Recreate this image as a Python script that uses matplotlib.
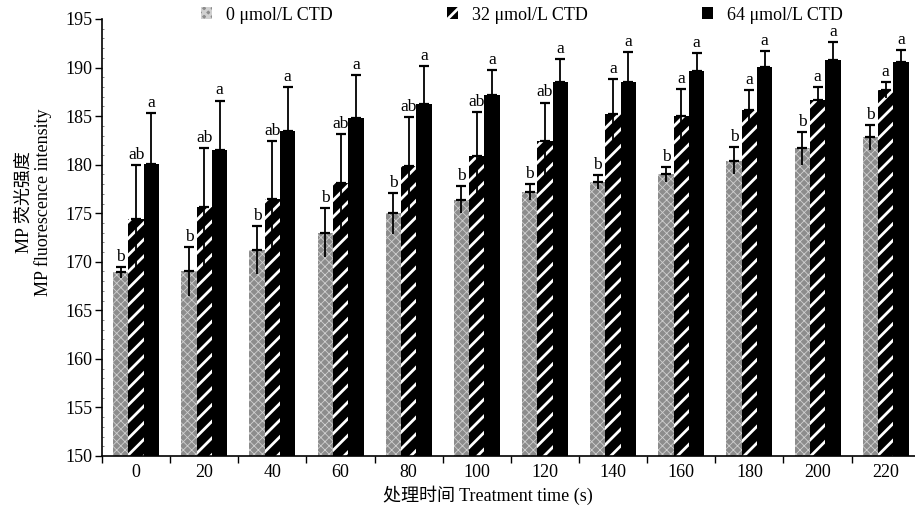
import matplotlib
matplotlib.use('Agg')
import matplotlib.pyplot as plt
import numpy as np
from matplotlib.patches import Patch

plt.rcParams['font.family'] = ['Liberation Serif', 'Noto Sans CJK SC', 'DejaVu Sans']
plt.rcParams['hatch.linewidth'] = 2.0

times = ['0', '20', '40', '60', '80', '100', '120', '140', '160', '180', '200', '220']
ctd0 = [168.9, 169.0, 171.2, 173.0, 175.0, 176.4, 177.2, 178.2, 179.0, 180.4, 181.7, 182.8]
ctd0_err = [0.6, 2.5, 2.5, 2.5, 2.1, 1.4, 0.8, 0.7, 0.8, 1.4, 1.7, 1.3]
ctd32 = [174.4, 175.6, 176.5, 178.1, 179.9, 180.9, 182.4, 185.2, 185.0, 185.6, 186.7, 187.7]
ctd32_err = [5.6, 6.1, 5.9, 5.1, 5.0, 4.5, 4.0, 3.6, 2.8, 2.1, 1.3, 0.8]
ctd64 = [180.1, 181.5, 183.5, 184.8, 186.2, 187.2, 188.5, 188.5, 189.6, 190.1, 190.8, 190.6]
ctd64_err = [5.2, 5.1, 4.5, 4.4, 4.0, 2.5, 2.4, 3.1, 1.9, 1.6, 1.8, 1.2]
letters0 = ['b'] * 12
letters32 = ['ab'] * 7 + ['a'] * 5
letters64 = ['a'] * 12
series_names = ['0 μmol/L CTD', '32 μmol/L CTD', '64 μmol/L CTD']

fig = plt.figure(figsize=(9.15, 5.12), dpi=100)
ax = fig.add_axes([102 / 915, 1 - 456 / 512, 813 / 915, (456 - 19) / 512])

x = np.arange(len(times))
w = 0.225
base = 150

styles = [
    dict(facecolor='#8c8c8c', edgecolor='#d0d0d0', hatch='xxxx', hlw=0.6),
    dict(facecolor='black', edgecolor='white', hatch='//', hlw=2.0),
    dict(facecolor='black', edgecolor='black', hatch=None, hlw=1.0),
]

data = [(ctd0, ctd0_err, letters0), (ctd32, ctd32_err, letters32), (ctd64, ctd64_err, letters64)]
handles = []
for k, ((vals, errs, lets), st) in enumerate(zip(data, styles)):
    pos = x + (k - 1) * w
    vals = np.array(vals)
    errs = np.array(errs)
    bars = ax.bar(pos, vals - base, bottom=base, width=w, facecolor=st['facecolor'],
                  edgecolor=st['edgecolor'], hatch=st['hatch'], linewidth=0, zorder=2)
    for b in bars:
        if hasattr(b, 'set_hatch_linewidth'):
            b.set_hatch_linewidth(st['hlw'])
    ax.vlines(pos, vals - errs, vals, color='black', lw=1.3, zorder=3)
    ax.errorbar(pos, vals, yerr=[np.zeros_like(errs), errs], fmt='none', ecolor='black',
                elinewidth=1.3, capsize=3.5, capthick=1.6, zorder=3)
    for p, v, e, t in zip(pos, vals, errs, lets):
        ax.annotate(t, (p, v + e), xytext=(0, 1.5), textcoords='offset points',
                    ha='center', va='bottom', fontsize=12.5)
    h = Patch(facecolor=st['facecolor'], edgecolor=st['edgecolor'], hatch=st['hatch'], linewidth=0)
    if hasattr(h, 'set_hatch_linewidth'):
        h.set_hatch_linewidth(st['hlw'] * 0.6)
    handles.append(h)

ax.set_ylim(150, 195)
ax.set_xlim(-0.5, 11.43)
ax.set_yticks(np.arange(150, 196, 5))
ax.set_yticks(np.arange(150, 196, 1), minor=True)
ax.tick_params(axis='y', which='major', direction='out', length=5, width=1, labelsize=13, pad=2)
ax.tick_params(axis='y', which='minor', direction='in', length=1.5, width=0.5, color='#555555')

ax.set_xticks(np.arange(-0.5, 11.5, 1))
ax.set_xticklabels([])
ax.set_xticks(x, minor=True)
ax.set_xticklabels(times, minor=True)
ax.tick_params(axis='x', which='major', direction='out', length=5, width=1)
ax.tick_params(axis='x', which='minor', length=0, labelsize=13, pad=6)

for s in ['top', 'right']:
    ax.spines[s].set_visible(False)
for s in ['left', 'bottom']:
    ax.spines[s].set_linewidth(1.2)

fig.text(34 / 915, 1 - 202 / 512, 'MP 荧光强度\nMP fluorescence intensity', rotation=90,
         ha='center', va='center', multialignment='center', fontsize=13, linespacing=1.1)
fig.text(488 / 915, 1 - 495 / 512, '处理时间 Treatment time (s)', ha='center', va='center', fontsize=13)

fig.legend(handles, series_names, loc='center left', bbox_to_anchor=(201 / 915, 1 - 15 / 512),
           ncol=3, frameon=False, fontsize=13, handlelength=0.6, handleheight=0.6,
           handletextpad=0.8, columnspacing=6.3, borderpad=0, borderaxespad=0)

fig.savefig('out.png', dpi=100)
